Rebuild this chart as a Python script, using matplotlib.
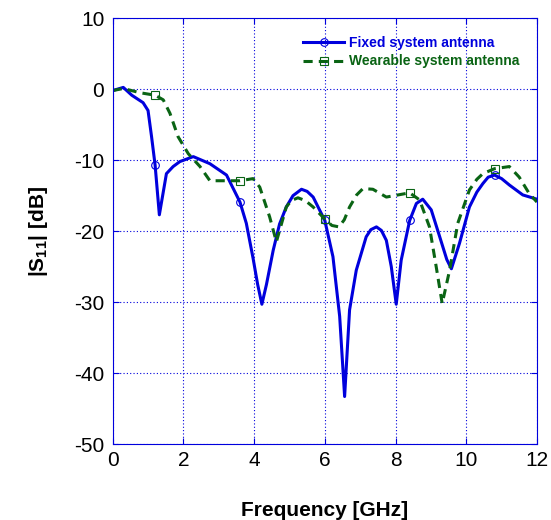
import numpy as np
import matplotlib
matplotlib.use('Agg')
import matplotlib.pyplot as plt

plt.rcParams['font.family'] = ['Liberation Sans', 'DejaVu Sans']
plt.rcParams['mathtext.fontset'] = 'custom'
plt.rcParams['mathtext.rm'] = 'Liberation Sans'
plt.rcParams['mathtext.bf'] = 'Liberation Sans:bold'
plt.rcParams['axes.unicode_minus'] = False

# digitized |S11| curves (GHz, dB)
fixed_freq = [0.0, 0.3, 0.54, 0.86, 1.0, 1.1, 1.2, 1.32, 1.52, 1.71, 1.9, 2.28,
              2.75, 3.22, 3.6, 3.78, 3.97, 4.1, 4.22, 4.35, 4.54, 4.72, 4.91,
              5.1, 5.34, 5.5, 5.67, 6.0, 6.23, 6.42, 6.56, 6.7, 6.89, 7.17,
              7.3, 7.46, 7.6, 7.74, 7.88, 8.02, 8.16, 8.4, 8.59, 8.77, 9.01,
              9.25, 9.45, 9.58, 9.81, 10.09, 10.3, 10.47, 10.62, 10.8, 11.0,
              11.22, 11.6, 12.0]
fixed_s11 = [-0.2, 0.25, -0.85, -1.9, -3.0, -6.7, -10.7, -17.7, -11.9, -10.9,
             -10.2, -9.5, -10.5, -12.1, -15.9, -18.9, -23.8, -27.5, -30.3, -27.5,
             -22.7, -19.0, -16.6, -15.0, -14.1, -14.4, -15.2, -18.5, -23.6, -32.0,
             -43.3, -31.1, -25.5, -20.8, -19.8, -19.4, -19.9, -21.3, -25.0,
             -30.3, -24.1, -18.5, -16.1, -15.5, -17.0, -20.8, -24.0, -25.3,
             -21.7, -16.6, -14.5, -13.3, -12.4, -12.1, -12.6, -13.5, -14.9, -15.5]

wear_freq = [0.0, 0.3, 0.77, 1.2, 1.43, 1.62, 1.85, 2.14, 2.47, 2.75, 3.22,
             3.6, 3.97, 4.16, 4.44, 4.63, 4.91, 5.05, 5.24, 5.45, 5.67, 6.0,
             6.2, 6.4, 6.55, 6.7, 6.9, 7.08, 7.36, 7.74, 8.4, 8.68, 8.96, 9.15,
             9.32, 9.53, 9.76, 10.09, 10.3, 10.47, 10.8, 11.22, 11.5, 11.78,
             12.0]
wear_s11 = [-0.2, 0.1, -0.5, -0.85, -1.5, -3.4, -6.7, -9.1, -10.9, -12.9, -12.9,
            -12.9, -12.6, -13.8, -18.0, -21.5, -16.6, -15.7, -15.3, -15.7, -16.6,
            -18.3, -19.2, -19.4, -18.4, -16.6, -14.9, -14.0, -14.1, -15.2, -14.6,
            -15.6, -19.4, -25.0, -30.2, -25.5, -18.9, -14.2, -12.7, -11.9, -11.2,
            -10.9, -12.4, -14.7, -15.9]

marker_freq = [1.2, 3.6, 6.0, 8.4, 10.8]

blue = '#0000dd'
green = '#0a6414'

fig = plt.figure(figsize=(5.51, 5.20), dpi=100)
ax = fig.add_axes([0.2045, 0.146, 0.770, 0.819])

ax.plot(fixed_freq, fixed_s11, color=blue, lw=2.2, marker='o', ms=5.5,
        mfc='none', mec=blue, mew=0.8,
        markevery=[i for i, f in enumerate(fixed_freq) if f in marker_freq],
        label='Fixed system antenna')
ax.plot(wear_freq, wear_s11, color=green, lw=2.2, ls=(0, (3, 2)), marker='s',
        ms=5.5, mfc='none', mec=green, mew=0.8,
        markevery=[i for i, f in enumerate(wear_freq) if f in marker_freq],
        label='Wearable system antenna')

ax.set_xlim(0, 12)
ax.set_ylim(-50, 10)
ax.set_xticks(np.arange(0, 13, 2))
ax.set_yticks(np.arange(-50, 11, 10))
ax.grid(True, color=blue, ls=(0, (1, 2)), lw=0.8)
for s in ax.spines.values():
    s.set_color(blue)
ax.tick_params(direction='in', colors=blue, labelcolor='black', labelsize=15,
               top=True, right=True, length=4)
ax.tick_params(axis='x', pad=5)
ax.tick_params(axis='y', pad=6)

ax.set_xlabel('Frequency [GHz]', fontsize=15, fontweight='bold', labelpad=22)
ax.set_ylabel(r'|S$_{\mathbf{11}}$| [dB]', fontsize=15, fontweight='bold',
              labelpad=17)

leg = ax.legend(loc='upper right', frameon=False, handlelength=3.0,
                handletextpad=0.3, labelspacing=0.3, borderaxespad=0.9,
                prop={'weight': 'bold', 'size': 10})
for t, c in zip(leg.get_texts(), [blue, green]):
    t.set_color(c)

fig.savefig('out.png', dpi=100)
